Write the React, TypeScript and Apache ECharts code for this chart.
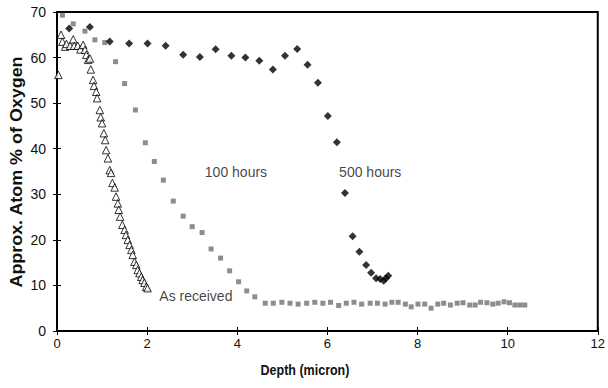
import React, { useEffect, useRef } from "react";
import * as echarts from "echarts";

// Oxygen depth profiles: [depth (micron), approx. atom % O]
const asReceived: number[][] = [
  [0.03, 56.2], [0.09, 65], [0.12, 63.5], [0.18, 62.4], [0.21, 63], [0.29, 62.6],
  [0.36, 64], [0.38, 62.6], [0.46, 62.6], [0.52, 61.8], [0.58, 62.8], [0.62, 61.7],
  [0.65, 60.6], [0.69, 59.5], [0.73, 59.8], [0.75, 57.4], [0.8, 55.1], [0.82, 53.8],
  [0.87, 52.5], [0.89, 51.1], [0.95, 48.5], [0.97, 46.9], [1.0, 45.6], [1.04, 43.4],
  [1.07, 41.9], [1.09, 39.7], [1.13, 37.9], [1.17, 35.3], [1.2, 34.7], [1.23, 32.5],
  [1.28, 31.5], [1.31, 29.5], [1.35, 28], [1.37, 26.6], [1.4, 25.1], [1.45, 23.3],
  [1.5, 22.2], [1.53, 21.1], [1.57, 20], [1.61, 18.9], [1.65, 17.8], [1.68, 16.7],
  [1.72, 15.2], [1.76, 14.5], [1.79, 13.4], [1.83, 12.7], [1.87, 11.9], [1.9, 11.2],
  [1.94, 10.6], [1.98, 9.7], [2.01, 9.4],
];

const hours100: number[][] = [
  [0.12, 69.3], [0.36, 67.4], [0.62, 65.8], [0.84, 63.9], [1.06, 63.3], [1.3, 59.1],
  [1.5, 54.3], [1.74, 48.5], [1.96, 41.3], [2.16, 37.2], [2.36, 33.1], [2.58, 28.5],
  [2.8, 25.2], [3.0, 22.9], [3.22, 21.6], [3.42, 18], [3.63, 16], [3.83, 13.2],
  [4.03, 10.8], [4.21, 8.8], [4.39, 7.5], [4.62, 6.1], [4.8, 6.1], [4.99, 6.3],
  [5.17, 6.1], [5.35, 5.9], [5.54, 6.1], [5.72, 6.3], [5.9, 6.1], [6.07, 6.3],
  [6.25, 5.6], [6.42, 6.1], [6.59, 6.3], [6.76, 5.9], [6.95, 6.1], [7.11, 6.1],
  [7.28, 5.9], [7.43, 6.3], [7.57, 6.3], [7.73, 5.9], [7.86, 5.3], [8.01, 5.9],
  [8.16, 5.9], [8.3, 5.0], [8.45, 5.9], [8.58, 6.1], [8.73, 5.7], [8.88, 6.1],
  [9.01, 6.2], [9.16, 5.7], [9.28, 5.7], [9.4, 6.3], [9.54, 6.2], [9.67, 5.9],
  [9.79, 6.1], [9.92, 6.4], [10.04, 6.2], [10.16, 5.7], [10.27, 5.7], [10.38, 5.7],
];

const hours500: number[][] = [
  [0.27, 66.4], [0.73, 66.7], [1.17, 63.5], [1.6, 63.1], [2.01, 63.1], [2.41, 62.6],
  [2.8, 60.6], [3.17, 60.1], [3.52, 61.8], [3.87, 60.4], [4.18, 60], [4.49, 59.3],
  [4.79, 57.4], [5.06, 60.4], [5.33, 61.9], [5.56, 58.4], [5.79, 54.5], [6.01, 47.2],
  [6.21, 41.4], [6.39, 30.3], [6.56, 20.8], [6.71, 17.4], [6.86, 14.5], [6.97, 12.8],
  [7.08, 11.6], [7.17, 11.4], [7.25, 11.0], [7.3, 11.6], [7.35, 12.1],
];

// Curve labels placed in data coordinates: [depth, atom %, text]
const curveLabels: [number, number, string][] = [
  [3.28, 34.9, "100 hours"],
  [6.26, 34.9, "500 hours"],
  [2.27, 7.7, "As received"],
];

const xTitle = "Depth (micron)";
const yTitle = "Approx. Atom % of Oxygen";

const FONT = "Liberation Sans, Arial, sans-serif";

export default function App() {
  const ref = useRef<HTMLDivElement>(null);

  useEffect(() => {
    if (!ref.current) return;
    const chart = echarts.init(ref.current, undefined, { renderer: "svg" });

    const outerTick = { show: true, length: 4, lineStyle: { color: "#000", width: 1 } };
    const innerTick = { show: true, inside: true, length: 4, lineStyle: { color: "#000", width: 1 } };

    chart.setOption({
      animation: false,
      backgroundColor: "#fff",
      grid: {
        left: 57,
        right: 6,
        top: 12,
        bottom: 57,
        show: true,
        borderColor: "#000",
        borderWidth: 2,
        backgroundColor: "transparent",
      },
      // Axis titles, drawn slightly stretched along their length
      graphic: [
        {
          type: "text",
          x: 305,
          y: 370,
          scaleY: 1.12,
          style: {
            text: xTitle,
            font: `bold 12.5px ${FONT}`,
            fill: "#111",
            align: "center",
            verticalAlign: "middle",
          },
        },
        {
          type: "text",
          x: 17,
          y: 172,
          rotation: Math.PI / 2,
          scaleX: 1.12,
          style: {
            text: yTitle,
            font: `bold 16px ${FONT}`,
            fill: "#111",
            align: "center",
            verticalAlign: "middle",
          },
        },
      ],
      xAxis: [
        {
          type: "value",
          min: 0,
          max: 12,
          interval: 2,
          axisLine: { show: true, lineStyle: { color: "#000", width: 2 } },
          axisTick: outerTick,
          axisLabel: { color: "#111", fontSize: 13, fontFamily: FONT, margin: 6 },
          splitLine: { show: false },
        },
        {
          type: "value",
          position: "bottom",
          min: 0,
          max: 12,
          interval: 2,
          axisLine: { show: false },
          axisTick: innerTick,
          axisLabel: { show: false },
          splitLine: { show: false },
        },
      ],
      yAxis: [
        {
          type: "value",
          min: 0,
          max: 70,
          interval: 10,
          axisLine: { show: true, lineStyle: { color: "#000", width: 2 } },
          axisTick: outerTick,
          axisLabel: { color: "#111", fontSize: 14, fontFamily: FONT, margin: 11 },
          splitLine: { show: false },
        },
        {
          type: "value",
          position: "left",
          min: 0,
          max: 70,
          interval: 10,
          axisLine: { show: false },
          axisTick: innerTick,
          axisLabel: { show: false },
          splitLine: { show: false },
        },
      ],
      series: [
        {
          name: "As received",
          type: "scatter",
          data: asReceived,
          symbol: "triangle",
          symbolSize: 7.5,
          itemStyle: { color: "#fff", borderColor: "#000", borderWidth: 1 },
          z: 3,
        },
        {
          name: "100 hours",
          type: "scatter",
          data: hours100,
          symbol: "rect",
          symbolSize: 5,
          itemStyle: { color: "#707070" },
          z: 2,
        },
        {
          name: "500 hours",
          type: "scatter",
          data: hours500,
          symbol: "diamond",
          symbolSize: 8,
          itemStyle: { color: "#000" },
          z: 4,
        },
        {
          name: "labels",
          type: "scatter",
          data: curveLabels.map(([x, y, t]) => ({ value: [x, y], name: t })),
          symbolSize: 0,
          silent: true,
          label: {
            show: true,
            position: "right",
            distance: 0,
            formatter: (p: any) => p.name,
            color: "#111",
            fontSize: 14,
            fontFamily: FONT,
          },
          z: 5,
        },
      ],
    });

    return () => chart.dispose();
  }, []);

  return (
    <div
      ref={ref}
      style={{ position: "fixed", left: 0, top: 0, width: 608, height: 388 }}
    />
  );
}
